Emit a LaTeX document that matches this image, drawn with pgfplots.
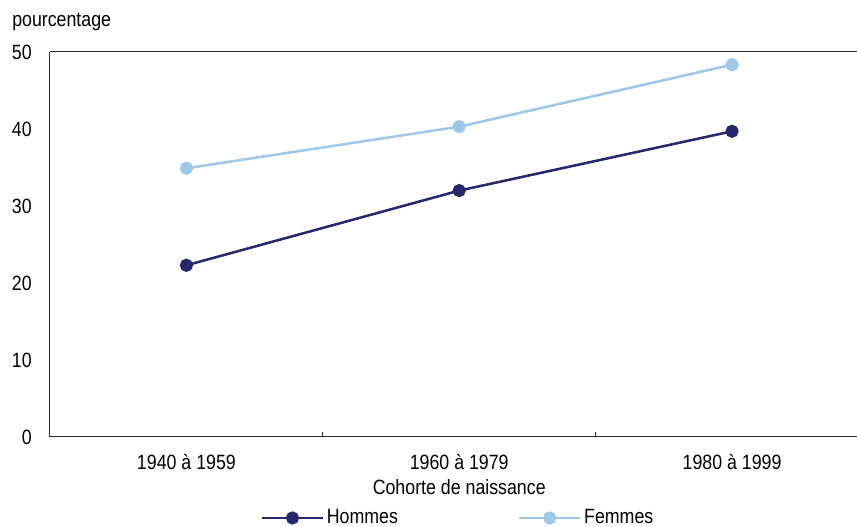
\documentclass[border=0pt]{standalone}
\usepackage{fontspec}
\setmainfont{Liberation Sans}[FakeStretch=0.86]
\usepackage{pgfplots}
\pgfplotsset{compat=1.18}
\definecolor{hom}{RGB}{38,40,110}
\definecolor{fem}{RGB}{158,200,234}
\definecolor{axc}{RGB}{40,40,40}
\begin{document}
\fontsize{15.5}{18}\selectfont
\begin{tikzpicture}
\begin{axis}[
  at={(0pt,0pt)}, anchor=south west,
  scale only axis, width=605.25pt, height=288.75pt,
  xmin=-0.5, xmax=2.458, ymin=0, ymax=50,
  axis lines*=left,
  axis line style={axc, line width=0.75pt},
  clip=false,
  /pgf/number format/assume math mode=true,
  xtick={0,1,2},
  xticklabels={1940 à 1959,1960 à 1979,1980 à 1999},
  xtick style={draw=none},
  xticklabel style={anchor=base, inner sep=0pt, yshift=-24.75pt},
  extra x ticks={0.5,1.5},
  extra x tick labels={},
  extra x tick style={tick align=inside, major tick length=3.75pt, xtick style={draw=axc, line width=0.75pt}},
  ytick={0,10,20,30,40,50},
  ytick style={draw=none},
  yticklabel style={anchor=east, inner sep=0pt, xshift=-13.5pt},
  legend style={at={(0.506,-0.2104)}, anchor=center, draw=none, fill=none,
    legend columns=2,
    /tikz/every even column/.append style={column sep=88pt},
    nodes={inner sep=2pt}},
  legend cell align=left,
  legend image code/.code={\draw[#1, mark repeat=2, mark phase=2] plot coordinates {(0pt,0pt) (22.9pt,0pt) (45.75pt,0pt)};},
]
\addplot[hom, line width=1.9pt, mark=*, mark size=4pt, mark options={solid}] coordinates {(0,22.3) (1,32.0) (2,39.7)};
\addlegendentry{Hommes}
\addplot[fem, line width=1.9pt, mark=*, mark size=4pt, mark options={solid}] coordinates {(0,34.9) (1,40.3) (2,48.35)};
\addlegendentry{Femmes}
\draw[axc, line width=0.75pt] (rel axis cs:0,1) -- (rel axis cs:1,1);
\node[anchor=base, inner sep=0pt, yshift=-43.5pt] at (axis cs:1,0) {Cohorte de naissance};
\node[anchor=base west, inner sep=0pt, xshift=-28.5pt, yshift=18.75pt] at (rel axis cs:0,1) {pourcentage};
\end{axis}
\pgfresetboundingbox
\useasboundingbox (-37.5pt,-67.5pt) rectangle (605.25pt,327.75pt);
\end{tikzpicture}
\end{document}
